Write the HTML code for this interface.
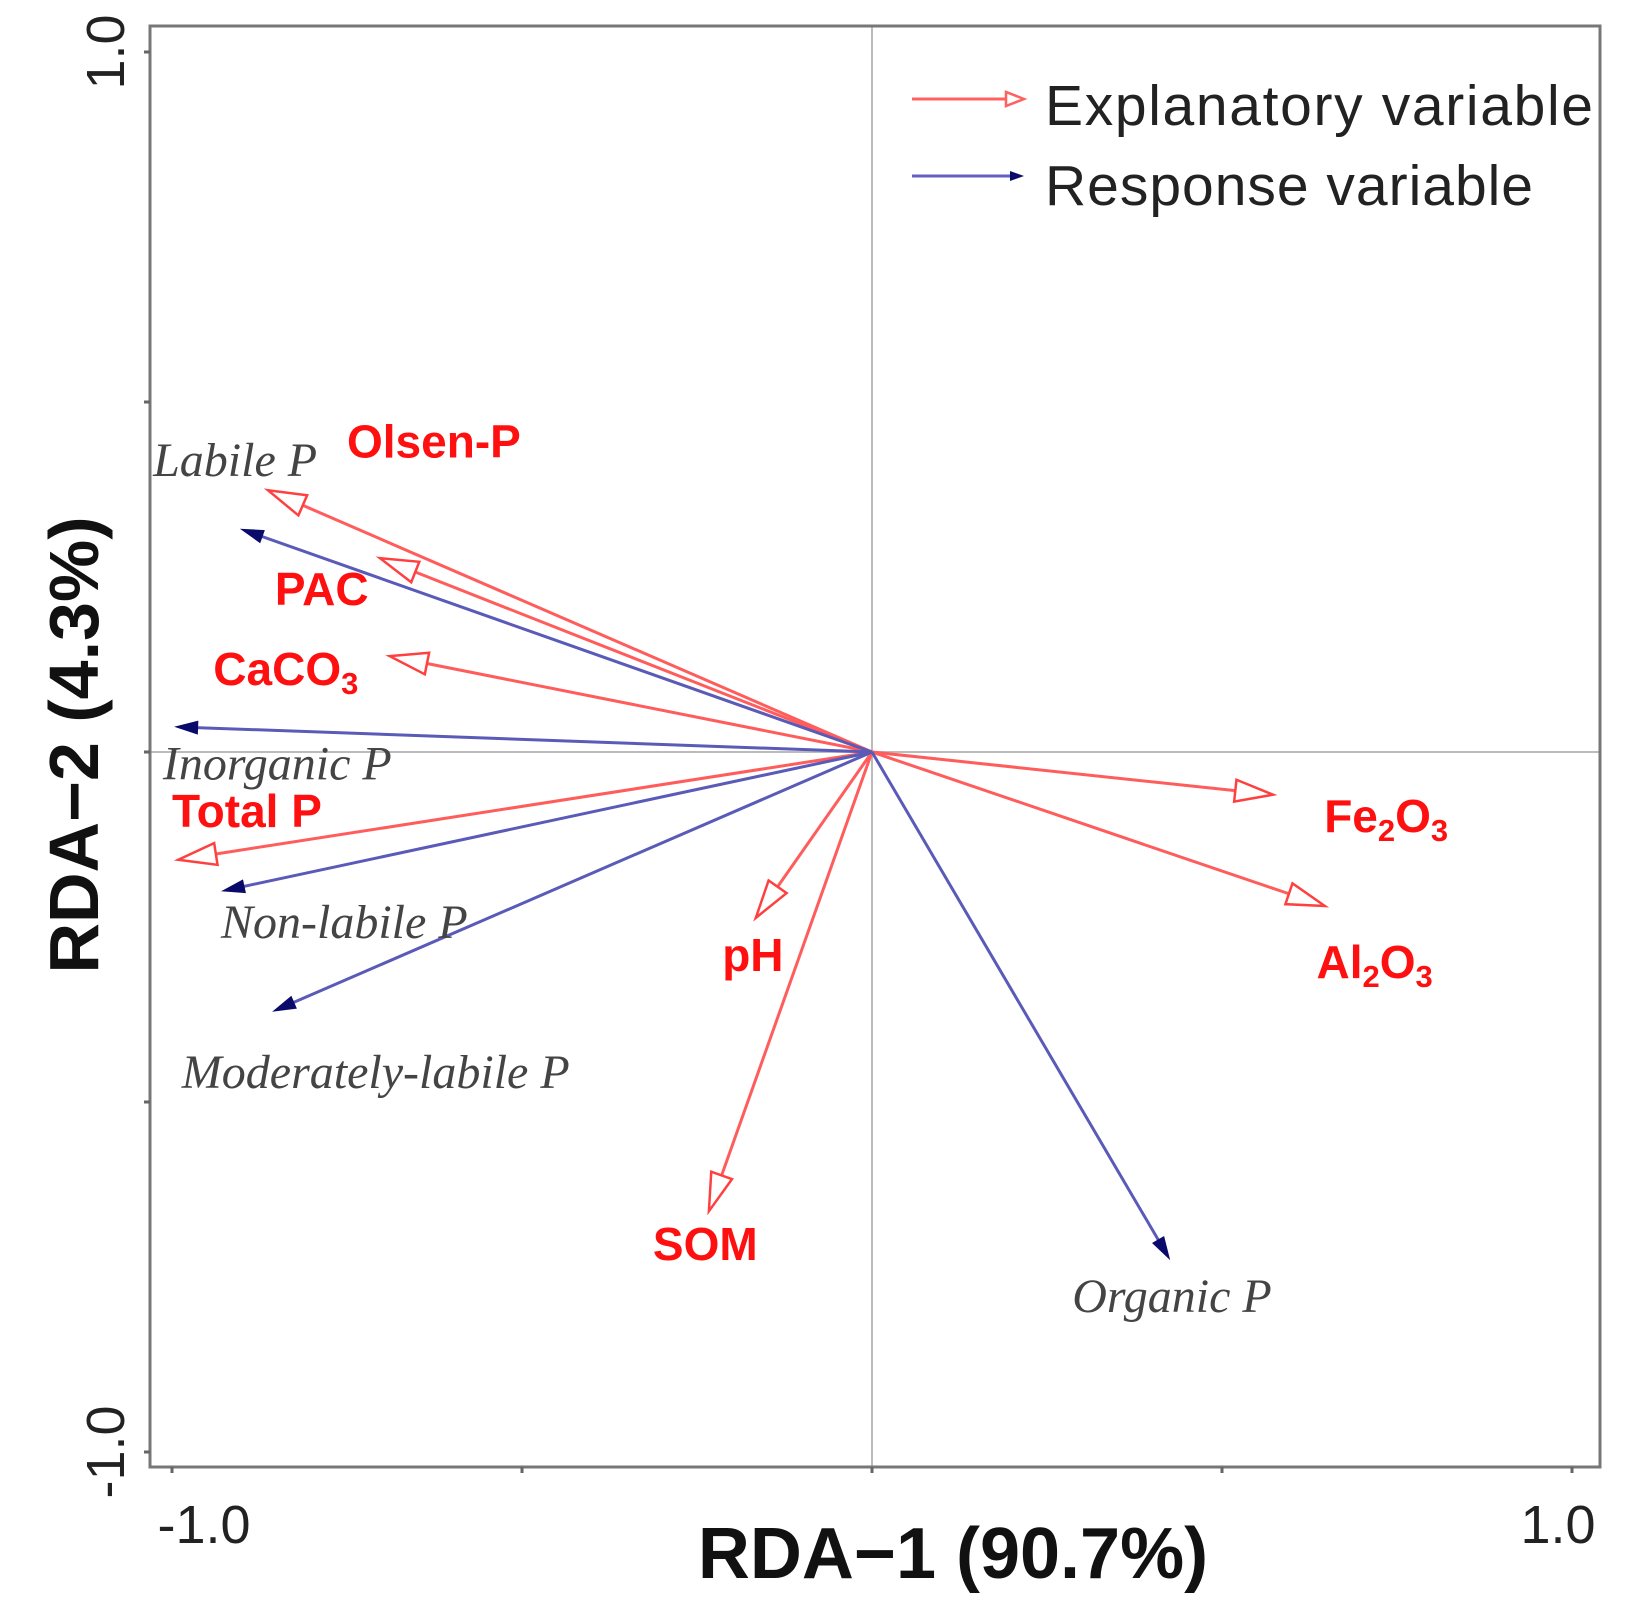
<!DOCTYPE html>
<html><head><meta charset="utf-8"><style>
html,body{margin:0;padding:0;background:#fff}
svg{display:block}
</style></head><body>
<svg id="chart" width="1630" height="1612" viewBox="0 0 1630 1612" xmlns="http://www.w3.org/2000/svg">
<rect x="0" y="0" width="1630" height="1612" fill="#fff"/>
<g id="grid"></g>
<g id="arrows"></g>
<g id="labels"></g>
<g id="axes"></g>
<g id="legend">
  <line x1="912" y1="99" x2="1010" y2="99" stroke="#ff6060" stroke-width="3"/>
  <polygon points="1024,99 1006,92 1006,106" fill="#fff" stroke="#ff6060" stroke-width="2.5"/>
  <text x="1045" y="125" font-family="Liberation Sans, sans-serif" font-size="57" fill="#222" textLength="548">Explanatory variable</text>
  <line x1="912" y1="176" x2="1012" y2="176" stroke="#6060c0" stroke-width="3"/>
  <polygon points="1024,176 1010,171 1010,181" fill="#0a0a6a"/>
  <text x="1045" y="205" font-family="Liberation Sans, sans-serif" font-size="57" fill="#222" textLength="488">Response variable</text>
</g>
</svg>
<script>
// Explanatory variables (red)
const expNames = ["Olsen-P","PAC","CaCO3","Total P","pH","SOM","Fe2O3","Al2O3"];
const expX = [-0.863,-0.703,-0.689,-0.991,-0.166,-0.233,0.573,0.647];
const expY = [0.374,0.277,0.137,-0.154,-0.237,-0.656,-0.061,-0.220];
const expLabelX = [-0.750,-0.853,-0.941,-1.0,-0.214,-0.313,0.646,0.635];
const expLabelY = [0.421,0.210,0.096,-0.107,-0.313,-0.726,-0.114,-0.323];
// Response variables (blue)
const resNames = ["Labile P","Inorganic P","Non-labile P","Moderately-labile P","Organic P"];
const resX = [-0.903,-0.997,-0.930,-0.857,0.426];
const resY = [0.319,0.036,-0.199,-0.371,-0.726];
const resLabelX = [-1.027,-1.013,-0.930,-0.986,0.286];
const resLabelY = [0.394,-0.039,-0.266,-0.480,-0.800];
const xTicks = [-1,-0.5,0,0.5,1];
const yTicks = [-1,-0.5,0,0.5,1];

const NS="http://www.w3.org/2000/svg";
const X0=872, Y0=752, S=700;
const L=150,R=1600,T=26,B=1467;
function sx(v){return X0+v*S;}
function sy(v){return Y0-v*S;}
function mk(tag,attrs,parent){const e=document.createElementNS(NS,tag);for(const k in attrs)e.setAttribute(k,attrs[k]);parent.appendChild(e);return e;}
const grid=document.getElementById('grid'),arrows=document.getElementById('arrows'),labels=document.getElementById('labels'),axes=document.getElementById('axes');

let g1=mk('line',{x1:sx(0),y1:T,x2:sx(0),y2:B,stroke:'#bbb','stroke-width':2},grid);


let g2=mk('line',{x1:L,y1:sy(0),x2:R,y2:sy(0),stroke:'#bbb','stroke-width':2},grid);



function head(x,y,ang,len,w){
  const c=Math.cos(ang),s=Math.sin(ang);
  const bx=x-len*c,by=y-len*s;
  return `${x},${y} ${bx-w*s},${by+w*c} ${bx+w*s},${by-w*c}`;
}
expNames.forEach((n,i)=>{
  const x=sx(expX[i]),y=sy(expY[i]);const a=Math.atan2(y-Y0,x-X0);
  const len=38;
  const ln=mk('line',{x1:X0,y1:Y0,x2:x-len*Math.cos(a),y2:y-len*Math.sin(a),stroke:'#ff5c5c','stroke-width':3},arrows);
  
  
  const h=mk('polygon',{points:head(x,y,a,len,11),fill:'#fff',stroke:'#ff4040','stroke-width':2.5},arrows);
  
  
  const t=mk('text',{x:sx(expLabelX[i]),y:sy(expLabelY[i]),'font-family':'Liberation Sans, sans-serif','font-weight':'bold','font-size':46,fill:'#ff1010'},labels);
  
  
  if(n==="CaCO3"){t.innerHTML='CaCO<tspan font-size="31" dy="9">3</tspan>';}
  else if(n==="Fe2O3"){t.innerHTML='Fe<tspan font-size="31" dy="9">2</tspan><tspan dy="-9">O</tspan><tspan font-size="31" dy="9">3</tspan>';}
  else if(n==="Al2O3"){t.innerHTML='Al<tspan font-size="31" dy="9">2</tspan><tspan dy="-9">O</tspan><tspan font-size="31" dy="9">3</tspan>';}
  else t.textContent=n;
});
resNames.forEach((n,i)=>{
  const x=sx(resX[i]),y=sy(resY[i]);const a=Math.atan2(y-Y0,x-X0);
  const len=24;
  const ln=mk('line',{x1:X0,y1:Y0,x2:x-len*Math.cos(a)*0.6,y2:y-len*Math.sin(a)*0.6,stroke:'#5a5ab8','stroke-width':3},arrows);
  
  
  const h=mk('polygon',{points:head(x,y,a,len,7),fill:'#0a0a6a'},arrows);
  
  
  const t=mk('text',{x:sx(resLabelX[i]),y:sy(resLabelY[i]),'font-family':'Liberation Serif, serif','font-style':'italic','font-size':48,fill:'#444'},labels);
  t.textContent=n;
  
  
});

let fr=mk('rect',{x:L,y:T,width:R-L,height:B-T,fill:'none',stroke:'#777','stroke-width':3},axes);


xTicks.forEach(v=>{
  const tk=mk('line',{x1:sx(v),y1:B,x2:sx(v),y2:B+6,stroke:'#666','stroke-width':3},axes);
  
  
});
yTicks.forEach(v=>{
  const tk=mk('line',{x1:L-6,y1:sy(v),x2:L,y2:sy(v),stroke:'#666','stroke-width':3},axes);
  
  
});
const tl=[[sx(-1)+32,1543,'-1.0','x-tick-label-min'],[sx(1)-14,1543,'1.0','x-tick-label-max']];
tl.forEach(d=>{const t=mk('text',{x:d[0],y:d[1],'text-anchor':'middle','font-family':'Liberation Sans, sans-serif','font-size':54,fill:'#222'},axes);t.textContent=d[2];

});
const yl=[[sy(1),'1.0','y-tick-label-max'],[sy(-1),'-1.0','y-tick-label-min']];
yl.forEach(d=>{const t=mk('text',{x:0,y:0,transform:`translate(124,${d[0]}) rotate(-90)`,'text-anchor':'middle','font-family':'Liberation Sans, sans-serif','font-size':54,fill:'#222'},axes);t.textContent=d[1];

});
let xt=mk('text',{x:953,y:1578,'text-anchor':'middle','font-family':'Liberation Sans, sans-serif','font-weight':'bold','font-size':72,fill:'#111'},axes);
xt.textContent='RDA\u22121 (90.7%)';


let yt=mk('text',{x:0,y:0,transform:'translate(98,745) rotate(-90)','text-anchor':'middle','font-family':'Liberation Sans, sans-serif','font-weight':'bold','font-size':70,fill:'#111'},axes);
yt.textContent='RDA\u22122 (4.3%)';


</script>
</body></html>
